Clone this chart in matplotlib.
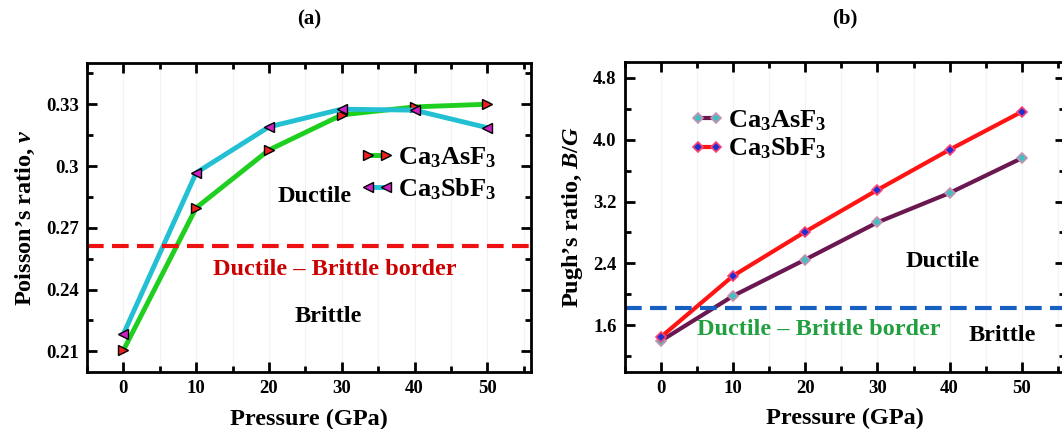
import matplotlib
matplotlib.use("Agg")
import matplotlib.pyplot as plt
from matplotlib.ticker import MultipleLocator

plt.rcParams['font.family'] = ['Liberation Serif', 'DejaVu Serif']
plt.rcParams['font.weight'] = 'bold'
plt.rcParams['axes.labelweight'] = 'bold'
plt.rcParams['axes.titleweight'] = 'bold'
plt.rcParams['mathtext.fontset'] = 'custom'
plt.rcParams['mathtext.rm'] = 'Liberation Serif:bold'
plt.rcParams['mathtext.it'] = 'Liberation Serif:italic:bold'
plt.rcParams['mathtext.bf'] = 'Liberation Serif:bold'

# pressure points (GPa)
pressure = [0, 10, 20, 30, 40, 50]

# Poisson's ratio
poisson_as = [0.2105, 0.2797, 0.3078, 0.3248, 0.3287, 0.3300]
poisson_sb = [0.2184, 0.2967, 0.3190, 0.3276, 0.3271, 0.3186]
poisson_border = 0.261

# Pugh's ratio B/G
pugh_as = [1.40, 1.98, 2.45, 2.93, 3.31, 3.76]
pugh_sb = [1.45, 2.24, 2.81, 3.35, 3.87, 4.36]
pugh_border = 1.82

names = ['Ca$_3$AsF$_3$', 'Ca$_3$SbF$_3$']


def style_axes(ax, ymajor, yminor):
    ax.xaxis.set_major_locator(MultipleLocator(10))
    ax.xaxis.set_minor_locator(MultipleLocator(5))
    ax.yaxis.set_major_locator(MultipleLocator(ymajor))
    ax.yaxis.set_minor_locator(MultipleLocator(yminor))
    ax.tick_params(which='both', direction='in', top=True, right=True,
                   width=2, labelsize=13.5)
    ax.tick_params(which='major', length=7, pad=6)
    ax.tick_params(which='minor', length=4)
    for sp in ax.spines.values():
        sp.set_linewidth(2)
    ax.grid(axis='x', which='both', color='#f3f3f3', lw=0.8)
    ax.set_axisbelow(True)
    ax.set_xlabel('Pressure (GPa)', fontsize=17.5, labelpad=8)


fig = plt.figure(figsize=(10.62, 4.29), dpi=100)

# (a) Poisson's ratio
ax1 = fig.add_axes([0.0819, 0.1329, 0.4181, 0.7202])
ax1.plot(pressure, poisson_as, color='#1fcf1f', lw=3.5, marker='>', ms=7,
         mfc='#ee2020', mec='black', mew=1, label=names[0])
ax1.plot(pressure, poisson_sb, color='#22c0d2', lw=3.5, marker='<', ms=7,
         mfc='#d020c8', mec='black', mew=1, label=names[1])
ax1.axhline(poisson_border, color='#ee1111', lw=3, ls=(0, (4, 2)))
ax1.set_xlim(-5, 56)
ax1.set_ylim(0.2, 0.35)
style_axes(ax1, 0.03, 0.015)
ax1.set_yticks([0.21, 0.24, 0.27, 0.30, 0.33])
ax1.set_yticklabels(['0.21', '0.24', '0.27', '0.3', '0.33'])
ax1.set_ylabel("Poisson\u2019s ratio, $\\nu$", fontsize=17.5, labelpad=6)
ax1.set_title('(a)', fontsize=15, pad=28)
ax1.text(29.0, 0.2499, 'Ductile \u2013 Brittle border', color='#cc0000',
         fontsize=17.5, ha='center', va='center')
ax1.text(26.3, 0.2853, 'Ductile', fontsize=17.5, ha='center', va='center')
ax1.text(28.2, 0.2271, 'Brittle', fontsize=17.5, ha='center', va='center')
ax1.legend(loc='upper left', bbox_to_anchor=(0.585, 0.775), frameon=False,
           fontsize=19, numpoints=2, handlelength=1.3, handletextpad=0.15,
           labelspacing=0.22, borderpad=0)

# (b) Pugh's ratio
ax2 = fig.add_axes([0.5885, 0.1336, 0.4143, 0.7212])
ax2.plot(pressure, pugh_as, color='#6b1850', lw=3, marker='D', ms=5,
         mfc='#40c0c0', mec='#c890b0', mew=1.2, label=names[0])
ax2.plot(pressure, pugh_sb, color='#ff1414', lw=3, marker='D', ms=5,
         mfc='#2030d0', mec='#ff4070', mew=1.2, label=names[1])
ax2.axhline(pugh_border, color='#1560c0', lw=3, ls=(0, (4, 2)))
ax2.set_xlim(-5, 56)
ax2.set_ylim(1.0, 5.0)
style_axes(ax2, 0.8, 0.4)
ax2.set_ylabel("Pugh\u2019s ratio, $B/G$", fontsize=17.5, labelpad=6)
ax2.set_title('(b)', fontsize=15, pad=28)
ax2.text(21.9, 1.548, 'Ductile \u2013 Brittle border', color='#22a040',
         fontsize=17.5, ha='center', va='center')
ax2.text(47.3, 1.47, 'Brittle', fontsize=17.5, ha='center', va='center')
ax2.text(39.1, 2.43, 'Ductile', fontsize=17.5, ha='center', va='center')
ax2.legend(loc='upper left', bbox_to_anchor=(0.118, 0.895), frameon=False,
           fontsize=19, numpoints=2, handlelength=1.3, handletextpad=0.15,
           labelspacing=0.12, borderpad=0)

fig.savefig('out.png', dpi=100)
